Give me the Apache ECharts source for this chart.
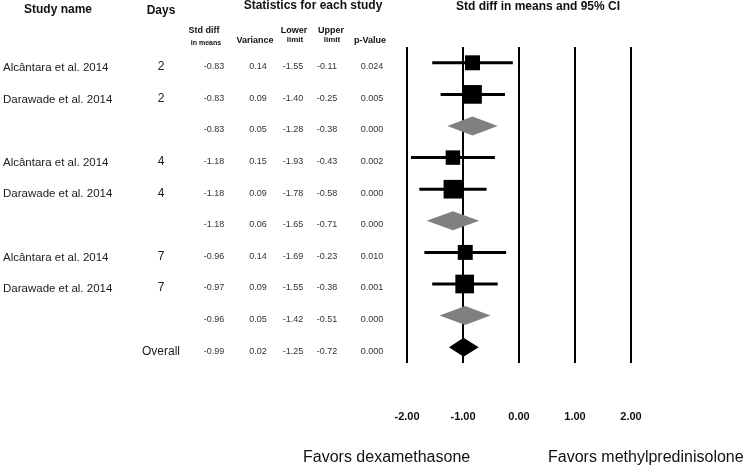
<!DOCTYPE html>
<html><head><meta charset="utf-8">
<script src="https://cdn.jsdelivr.net/npm/echarts@6/dist/echarts.min.js"></script>
<style>html,body{margin:0;padding:0;background:#fff}#c{width:746px;height:469px}</style>
</head><body><div id="c"></div>
<script>
// ---- data ----
const studies = ["Alcântara et al. 2014","Darawade et al. 2014","","Alcântara et al. 2014","Darawade et al. 2014","","Alcântara et al. 2014","Darawade et al. 2014","",""];
const days = ["2","2","","4","4","","7","7","","Overall"];
const rowType = ["study","study","subtotal","study","study","subtotal","study","study","subtotal","overall"];
const stdDiff = [-0.83,-0.83,-0.83,-1.18,-1.18,-1.18,-0.96,-0.97,-0.96,-0.99];
const variance = [0.14,0.09,0.05,0.15,0.09,0.06,0.14,0.09,0.05,0.02];
const lowerLimit = [-1.55,-1.40,-1.28,-1.93,-1.78,-1.65,-1.69,-1.55,-1.42,-1.25];
const upperLimit = [-0.11,-0.25,-0.38,-0.43,-0.58,-0.71,-0.23,-0.38,-0.51,-0.72];
const pValue = ["0.024","0.005","0.000","0.002","0.000","0.000","0.010","0.001","0.000","0.000"];
const xTicks = [-2,-1,0,1,2];
const favorsLeft = "Favors dexamethasone";
const favorsRight = "Favors methylpredinisolone";

// ---- layout ----
const COL = {name:3, days:161, std:214, vr:258, lo:293, up:327, p:372};
const FONT = "'Liberation Sans', Arial, sans-serif";
const nRows = studies.length;

const whiskerData = [], squareData = [], diamondData = [], tableData = [];
for (let i = 0; i < nRows; i++) {
  tableData.push([0, i]);
  if (rowType[i] === 'study') {
    whiskerData.push([lowerLimit[i], upperLimit[i], i]);
    squareData.push([stdDiff[i], i, variance[i]]);
  } else {
    diamondData.push([lowerLimit[i], stdDiff[i], upperLimit[i], i, rowType[i] === 'overall' ? 1 : 0]);
  }
}

function txt(text, x, y, size, bold, align, color) {
  return {type:'text', x:x, y:y, style:{text:text, font:(bold?'bold ':'')+size+'px '+FONT,
    fill:color||'#111', align:align||'center', verticalAlign:'middle'}};
}

const chart = echarts.init(document.getElementById('c'), null, {renderer:'canvas'});
chart.setOption({
  animation:false,
  backgroundColor:'#fff',
  grid:[
    {left:407, width:224, top:47, height:316},
    {left:0, right:0, top:51, height:316}
  ],
  xAxis:[
    {type:'value', gridIndex:0, min:xTicks[0], max:xTicks[xTicks.length-1], interval:1,
     axisLine:{show:false}, axisTick:{show:false},
     splitLine:{show:true, lineStyle:{color:'#000', width:2}},
     axisLabel:{show:true, margin:48, showMinLabel:true, showMaxLabel:true,
       formatter:v=>v.toFixed(2), fontFamily:FONT, fontWeight:'bold', fontSize:11, color:'#111'}},
    {type:'value', gridIndex:1, min:0, max:746, show:false}
  ],
  yAxis:[
    {type:'value', gridIndex:0, inverse:true, min:-0.5, max:nRows-0.5, show:false},
    {type:'value', gridIndex:1, inverse:true, min:-0.5, max:nRows-0.5, show:false}
  ],
  series:[
    {type:'custom', xAxisIndex:0, yAxisIndex:0, data:whiskerData, encode:{x:[0,1], y:2},
     renderItem:(p, api)=>{
       const a = api.coord([api.value(0), api.value(2)]);
       const b = api.coord([api.value(1), api.value(2)]);
       return {type:'line', shape:{x1:a[0], y1:a[1], x2:b[0], y2:b[1]}, style:{stroke:'#000', lineWidth:3}};
     }},
    {type:'scatter', xAxisIndex:0, yAxisIndex:0, data:squareData, symbol:'rect',
     symbolSize:v=>5.6/Math.sqrt(v[2]), itemStyle:{color:'#000', opacity:1}, z:3},
    {type:'custom', xAxisIndex:0, yAxisIndex:0, data:diamondData, encode:{x:[0,1,2], y:3},
     renderItem:(p, api)=>{
       const lo = api.coord([api.value(0), api.value(3)]);
       const c = api.coord([api.value(1), api.value(3)]);
       const hi = api.coord([api.value(2), api.value(3)]);
       const h = 9.5;
       return {type:'polygon', shape:{points:[[lo[0],lo[1]],[c[0],c[1]-h],[hi[0],hi[1]],[c[0],c[1]+h]]},
         style:{fill: api.value(4) ? '#000' : '#808080'}};
     }},
    {type:'custom', xAxisIndex:1, yAxisIndex:1, data:tableData, encode:{x:0, y:1}, silent:true,
     renderItem:(p, api)=>{
       const i = api.value(1);
       const y = api.coord([0, i])[1];
       const X = k => api.coord([COL[k], i])[0];
       const num = (s, k) => txt(s, X(k), y, 9, false, 'center', '#333');
       const kids = [];
       if (studies[i]) kids.push(txt(studies[i], X('name'), y+1, 11.5, false, 'left', '#1a1a1a'));
       if (days[i]) kids.push(txt(days[i], X('days'), y, 12, false, 'center', '#1a1a1a'));
       kids.push(num(stdDiff[i].toFixed(2), 'std'));
       kids.push(num(variance[i].toFixed(2), 'vr'));
       kids.push(num(lowerLimit[i].toFixed(2), 'lo'));
       kids.push(num(upperLimit[i].toFixed(2), 'up'));
       kids.push(num(pValue[i], 'p'));
       return {type:'group', children:kids};
     }}
  ],
  graphic:[
    txt('Study name', 58, 10, 12, true),
    txt('Days', 161, 11, 12, true),
    txt('Statistics for each study', 313, 6, 12, true),
    txt('Std diff in means and 95% CI', 538, 7, 12, true),
    txt('Std diff', 204, 31, 9, true),
    txt('in means', 206, 43, 7, true),
    txt('Variance', 255, 41, 9, true),
    txt('Lower', 294, 31, 9, true),
    txt('limit', 295, 40, 8, true),
    txt('Upper', 331, 31, 9, true),
    txt('limit', 332, 40, 8, true),
    txt('p-Value', 370, 41, 9, true),
    txt(favorsLeft, 303, 458, 16, false, 'left', '#111'),
    txt(favorsRight, 548, 458, 16, false, 'left', '#111')
  ]
});
</script></body></html>
